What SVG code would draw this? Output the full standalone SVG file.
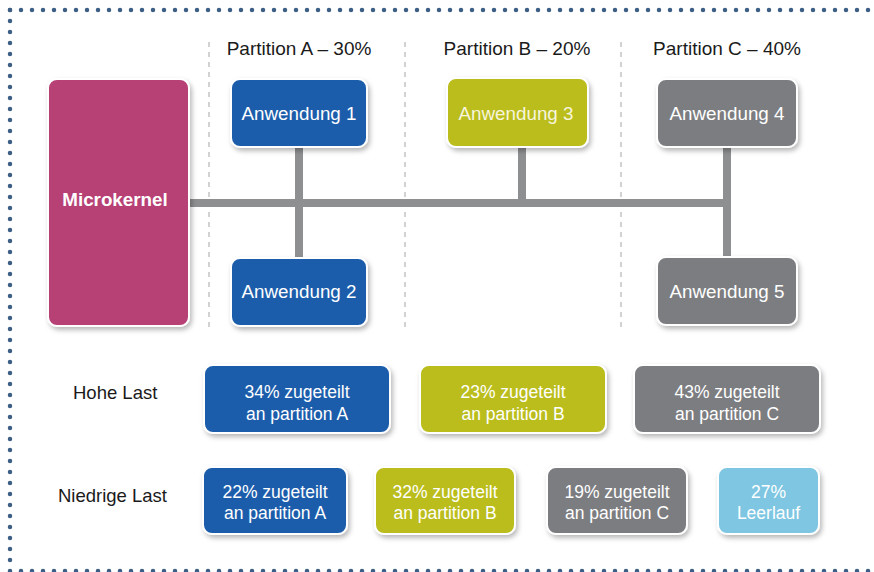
<svg xmlns="http://www.w3.org/2000/svg" width="874" height="572" viewBox="0 0 874 572">
<defs>
<filter id="sh" x="-20%" y="-20%" width="140%" height="140%">
<feDropShadow dx="2" dy="3" stdDeviation="2.5" flood-color="#000" flood-opacity="0.28"/>
</filter>
</defs>
<style>
.dots{stroke:#3d5f86;stroke-width:4.5;stroke-linecap:round;stroke-dasharray:0 11;fill:none}
.sep{stroke:#c4c4c4;stroke-width:1.5;stroke-dasharray:5 5;fill:none}
.bus{stroke:#8e8f91;stroke-width:8;fill:none}
.box{stroke:#fff;stroke-width:2;filter:url(#sh)}
.blue{fill:#1b5dab}
.green{fill:#babd1c}
.gray{fill:#7b7d80}
.light{fill:#7ec6e2}
.mag{fill:#b74075}
.t{font-family:"Liberation Sans",Arial,sans-serif;font-size:18.8px;fill:#fff;text-anchor:middle}
.tg{fill:#f7f5dc}
.hd{font-family:"Liberation Sans",Arial,sans-serif;font-size:19px;fill:#1a1a1a;text-anchor:middle}
.lb{font-family:"Liberation Sans",Arial,sans-serif;font-size:18.5px;fill:#1a1a1a}
.t2{font-family:"Liberation Sans",Arial,sans-serif;font-size:17.5px;fill:#fff;text-anchor:middle}
</style>
<rect width="874" height="572" fill="#fff"/>
<g id="border">
<line class="dots" x1="10" y1="10" x2="874" y2="10"/>
<line class="dots" x1="10" y1="10" x2="10" y2="571"/>
<line class="dots" x1="10" y1="571" x2="874" y2="571"/>
</g>
<g id="separators">
<line class="sep" x1="209" y1="42" x2="209" y2="332"/>
<line class="sep" x1="405" y1="42" x2="405" y2="332"/>
<line class="sep" x1="621" y1="42" x2="621" y2="332"/>
</g>
<g id="headers">
<text class="hd" x="299" y="55">Partition A – 30%</text>
<text class="hd" x="517" y="55">Partition B – 20%</text>
<text class="hd" x="727" y="55">Partition C – 40%</text>
</g>
<g id="connectors">
<line class="bus" x1="189" y1="203" x2="731" y2="203"/>
<line class="bus" x1="299" y1="147" x2="299" y2="257"/>
<line class="bus" x1="522" y1="147" x2="522" y2="203"/>
<line class="bus" x1="727" y1="147" x2="727" y2="257"/>
</g>
<g id="microkernel">
<rect class="box mag" x="48" y="79" width="141" height="247" rx="9"/>
<text class="t" x="115" y="206" font-weight="bold" font-size="17.5">Microkernel</text>
</g>
<g id="anw1">
<rect class="box blue" x="231" y="79" width="136" height="68" rx="9"/>
<text class="t" x="299" y="120">Anwendung 1</text>
</g>
<g id="anw2">
<rect class="box blue" x="231" y="258" width="136" height="68" rx="9"/>
<text class="t" x="299" y="298">Anwendung 2</text>
</g>
<g id="anw3">
<rect class="box green" x="447" y="78" width="141" height="69" rx="9"/>
<text class="t tg" x="516" y="120">Anwendung 3</text>
</g>
<g id="anw4">
<rect class="box gray" x="657" y="79" width="140" height="68" rx="9"/>
<text class="t" x="727" y="120">Anwendung 4</text>
</g>
<g id="anw5">
<rect class="box gray" x="657" y="257" width="140" height="68" rx="9"/>
<text class="t" x="727" y="298">Anwendung 5</text>
</g>
<g id="label-hohe">
<text class="lb" x="73" y="399">Hohe Last</text>
</g>
<g id="label-niedrig">
<text class="lb" x="58" y="502">Niedrige Last</text>
</g>
<g id="hohe-a">
<rect class="box blue" x="204" y="365" width="186" height="68" rx="9"/>
<text class="t2" x="297" y="398">34% zugeteilt</text>
<text class="t2" x="297" y="420">an partition A</text>
</g>
<g id="hohe-b">
<rect class="box green" x="420" y="365" width="186" height="68" rx="9"/>
<text class="t2 tg" x="513" y="398">23% zugeteilt</text>
<text class="t2 tg" x="513" y="420">an partition B</text>
</g>
<g id="hohe-c">
<rect class="box gray" x="634" y="365" width="186" height="68" rx="9"/>
<text class="t2" x="727" y="398">43% zugeteilt</text>
<text class="t2" x="727" y="420">an partition C</text>
</g>
<g id="niedrig-a">
<rect class="box blue" x="203" y="467" width="144" height="67" rx="9"/>
<text class="t2" x="275" y="498">22% zugeteilt</text>
<text class="t2" x="275" y="519">an partition A</text>
</g>
<g id="niedrig-b">
<rect class="box green" x="375" y="467" width="140" height="67" rx="9"/>
<text class="t2 tg" x="445" y="498">32% zugeteilt</text>
<text class="t2 tg" x="445" y="519">an partition B</text>
</g>
<g id="niedrig-c">
<rect class="box gray" x="547" y="467" width="140" height="67" rx="9"/>
<text class="t2" x="617" y="498">19% zugeteilt</text>
<text class="t2" x="617" y="519">an partition C</text>
</g>
<g id="leerlauf">
<rect class="box light" x="718" y="467" width="101" height="67" rx="9"/>
<text class="t2" x="768.5" y="498">27%</text>
<text class="t2" x="768.5" y="519">Leerlauf</text>
</g>
</svg>
